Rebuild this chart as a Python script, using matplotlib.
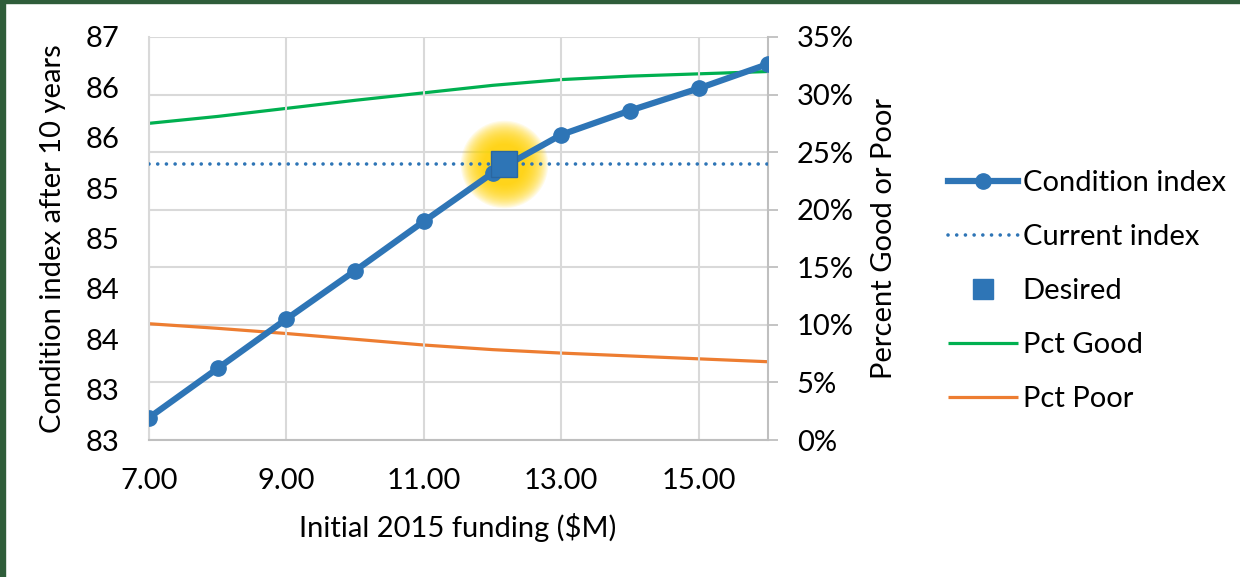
import matplotlib
matplotlib.use("Agg")
import matplotlib.pyplot as plt
from matplotlib.lines import Line2D
from matplotlib.patches import Rectangle
from matplotlib.ticker import FuncFormatter

plt.rcParams['font.family'] = ['Lato', 'DejaVu Sans']

# funding levels ($M) and modelled outcomes
funding = [7, 8, 9, 10, 11, 12, 13, 14, 15, 16]
condition = [82.72, 83.21, 83.70, 84.18, 84.67, 85.15, 85.53, 85.77, 85.99, 86.23]
pct_good = [27.5, 28.1, 28.8, 29.5, 30.15, 30.8, 31.3, 31.6, 31.8, 32.0]
pct_poor = [10.1, 9.7, 9.25, 8.75, 8.25, 7.85, 7.55, 7.3, 7.05, 6.8]
current_index = 85.24
desired_funding = 12.17
desired_index = 85.24

left_ticks = [82.5, 83, 83.5, 84, 84.5, 85, 85.5, 86, 86.5]
left_labels = ["83", "83", "84", "84", "85", "85", "86", "86", "87"]
x_ticks = [7, 9, 11, 13, 15]
right_ticks = [0, 5, 10, 15, 20, 25, 30, 35]

BLUE = "#2E75B6"
GREEN = "#00B050"
ORANGE = "#ED7D31"
GRID = "#D9D9D9"
AXIS = "#BFBFBF"
FS = 21

fig = plt.figure(figsize=(12.4, 5.77), dpi=100)
ax = fig.add_axes([0.12, 0.2374, 0.499, 0.6985])
ax2 = ax.twinx()

# right axis (percentages) drawn below the condition index
ax.set_zorder(ax2.get_zorder() + 1)
ax.patch.set_visible(False)

l_good, = ax2.plot(funding, pct_good, color=GREEN, lw=2.3, solid_capstyle='butt')
l_poor, = ax2.plot(funding, pct_poor, color=ORANGE, lw=2.3, solid_capstyle='butt')
ax2.set_ylim(0, 35)
ax2.set_yticks(right_ticks)
ax2.yaxis.set_major_formatter(FuncFormatter(lambda v, p: f"{v:.0f}%"))
ax2.set_ylabel("Percent Good or Poor", fontsize=FS, labelpad=12)
ax2.tick_params(axis='y', labelsize=FS, length=7, width=1.3, color=AXIS, pad=14)

# gridlines live on the right-hand axes so they sit under everything
ax2.grid(True, axis='y', color=GRID, lw=1.5)
for sp in ax2.spines.values():
    sp.set_visible(False)
ax2.spines['right'].set_visible(True)
ax2.spines['right'].set_color(AXIS)
ax2.spines['right'].set_linewidth(1.5)

ax.grid(True, axis='x', color=GRID, lw=1.5)
ax.set_axisbelow(True)

# soft yellow glow around the target point
for i in range(22):
    ms = 63 - i * 1.6
    ax.plot([desired_funding], [desired_index], 'o', ms=ms, color="#FFD400",
            alpha=0.09, mec='none', zorder=1)

l_cur, = ax.plot([funding[0], funding[-1]], [current_index, current_index],
                 color=BLUE, lw=2.6, linestyle=(0, (0.01, 2.4)),
                 dash_capstyle='round', zorder=3)
l_cond, = ax.plot(funding, condition, color=BLUE, lw=4.5, marker='o', ms=11,
                  zorder=4)
ax.plot([desired_funding], [desired_index], 's', ms=19, color=BLUE,
        mec="#2A66A0", mew=1, zorder=5, linestyle='none')
# smaller square for the legend key
l_des = Line2D([], [], marker='s', ms=14, color=BLUE, linestyle='none')

ax.set_xlim(7, 16)
ax.set_ylim(82.5, 86.5)
ax.set_xticks(x_ticks)
ax.set_xticklabels([f"{v:.2f}" for v in x_ticks])
ax.set_yticks(left_ticks)
ax.set_yticklabels(left_labels)
ax.tick_params(axis='both', labelsize=FS, length=0)
ax.tick_params(axis='x', pad=20)
ax.tick_params(axis='y', pad=21)
ax.set_xlabel("Initial 2015 funding ($M)", fontsize=FS, labelpad=14)
ax.set_ylabel("Condition index after 10 years", fontsize=FS, labelpad=14)

for sp in ['top', 'right']:
    ax.spines[sp].set_visible(False)
ax.spines['left'].set_color(GRID)
ax.spines['left'].set_linewidth(1.5)
ax.spines['bottom'].set_color(AXIS)
ax.spines['bottom'].set_linewidth(1.5)

fig.legend([l_cond, l_cur, l_des, l_good, l_poor],
           ["Condition index", "Current index", "Desired", "Pct Good", "Pct Poor"],
           loc='center left', bbox_to_anchor=(0.743, 0.495), frameon=False,
           fontsize=FS, handlelength=2.43, labelspacing=0.96, handletextpad=0.15)

# dark frame along the top and left edges
fig.patches.append(Rectangle((0, 0), 5 / 1240, 1, transform=fig.transFigure,
                             color="#2F5D3A", zorder=0))
fig.patches.append(Rectangle((0, 1 - 3 / 577), 1, 3 / 577, transform=fig.transFigure,
                             color="#2F5D3A", zorder=0))

fig.savefig("out.png", dpi=100)
